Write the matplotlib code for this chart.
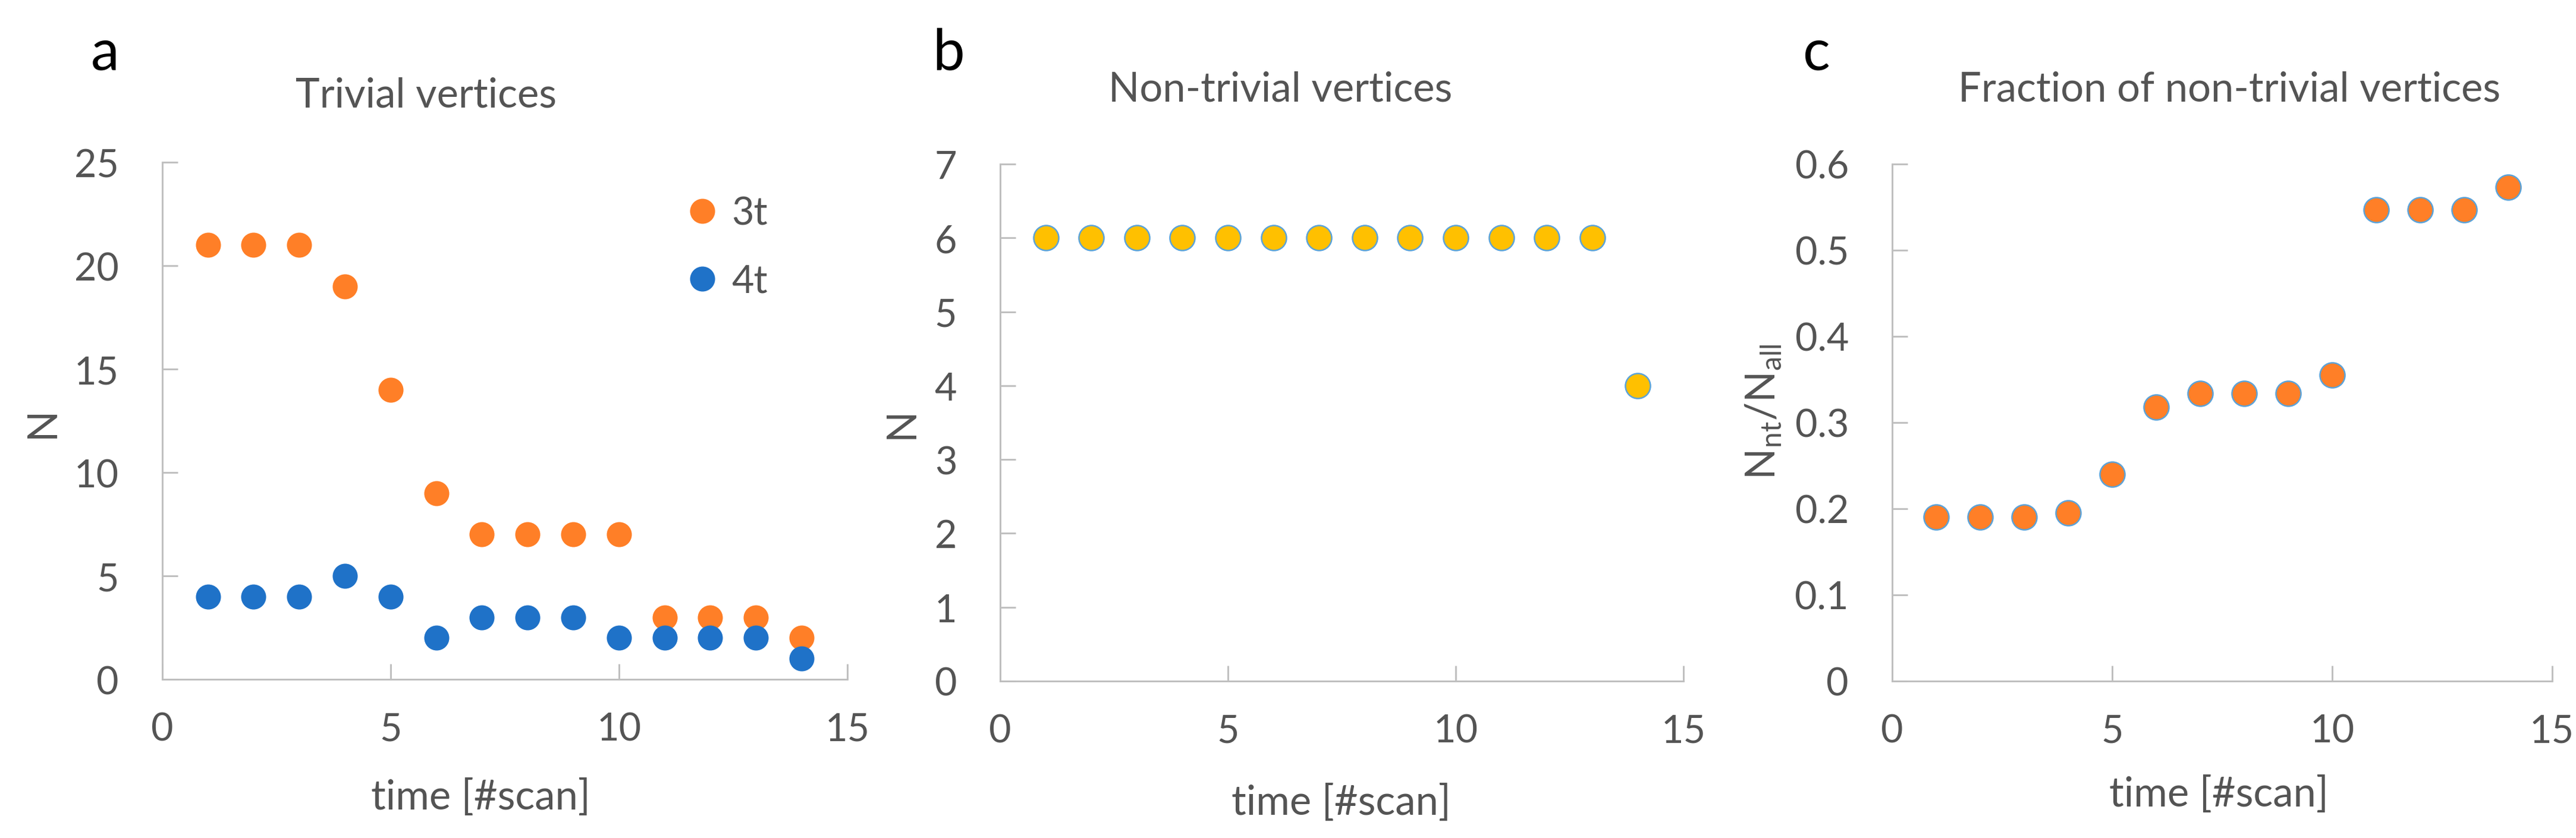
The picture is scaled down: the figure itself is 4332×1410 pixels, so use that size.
import matplotlib.pyplot as plt
from matplotlib.ticker import FuncFormatter

plt.rcParams['font.family'] = ['Lato', 'DejaVu Sans']

# data
time = [1, 2, 3, 4, 5, 6, 7, 8, 9, 10, 11, 12, 13, 14]
n_3t = [21, 21, 21, 19, 14, 9, 7, 7, 7, 7, 3, 3, 3, 2]
n_4t = [4, 4, 4, 5, 4, 2, 3, 3, 3, 2, 2, 2, 2, 1]
n_nt = [6, 6, 6, 6, 6, 6, 6, 6, 6, 6, 6, 6, 6, 4]
frac_nt = [0.19, 0.19, 0.19, 0.195, 0.24, 0.318, 0.334, 0.334, 0.334, 0.355,
           0.547, 0.547, 0.547, 0.573]

titles = ['Trivial vertices', 'Non-trivial vertices', 'Fraction of non-trivial vertices']
letters = ['a', 'b', 'c']

TXT = '#545454'
AX = '#BFBFBF'
ORANGE = '#FF7F27'
BLUE = '#1F72C8'
YELLOW = '#FFC000'
EDGE = '#5BA3D9'

fig = plt.figure(figsize=(14.44, 4.7033), dpi=300)
ax_a = fig.add_axes([0.0630, 0.1892, 0.2659, 0.6166])
ax_b = fig.add_axes([0.3883, 0.1871, 0.2652, 0.6166])
ax_c = fig.add_axes([0.7345, 0.1871, 0.2562, 0.6166])
axes = [ax_a, ax_b, ax_c]

ms = 10.1
ax_a.plot(time, n_3t, 'o', color=ORANGE, ms=ms, mew=0, label='3t', clip_on=False)
ax_a.plot(time, n_4t, 'o', color=BLUE, ms=ms, mew=0, label='4t', clip_on=False)
ax_b.plot(time, n_nt, 'o', color=YELLOW, mec=EDGE, ms=ms, mew=0.6, clip_on=False)
ax_c.plot(time, frac_nt, 'o', color=ORANGE, mec=EDGE, ms=ms, mew=0.6, clip_on=False)

ax_a.set_ylim(0, 25)
ax_a.set_yticks([0, 5, 10, 15, 20, 25])
ax_b.set_ylim(0, 7)
ax_b.set_yticks(range(0, 8))
ax_c.set_ylim(0, 0.6)
ax_c.set_yticks([0, 0.1, 0.2, 0.3, 0.4, 0.5, 0.6])
ax_c.yaxis.set_major_formatter(FuncFormatter(lambda v, p: '0' if v == 0 else f'{v:.1f}'))

leg = ax_a.legend(loc='center', bbox_to_anchor=(0.822, 0.836), frameon=False,
                  fontsize=15.5, handlelength=1.0, handletextpad=0.25,
                  labelspacing=0.85)
for t in leg.get_texts():
    t.set_color(TXT)

title_pos = [(0.385, 1.108), (0.41, 1.122), (0.511, 1.122)]
letter_x = [0.0353, 0.362, 0.700]
ylab = ['N', 'N', r'N$_{\mathregular{nt}}$/N$_{\mathregular{all}}$']
ylab_pos = [(-0.148, 0.498), (-0.117, 0.50), (-0.166, 0.522)]
xlab_pos = [(0.465, -0.191), (0.499, -0.198), (0.495, -0.182)]

for i, ax in enumerate(axes):
    ax.set_xlim(0, 15)
    ax.set_xticks([0, 5, 10, 15])
    for s in ['top', 'right']:
        ax.spines[s].set_visible(False)
    for s in ['left', 'bottom']:
        ax.spines[s].set_color(AX)
        ax.spines[s].set_linewidth(0.7)
    ax.tick_params(axis='both', direction='in', length=6.2, width=0.7, color=AX,
                   labelsize=15.5, labelcolor=TXT)
    ax.tick_params(axis='y', pad=17.5)
    ax.tick_params(axis='x', pad=13)
    ax.text(title_pos[i][0], title_pos[i][1], titles[i], transform=ax.transAxes,
            ha='center', va='baseline', fontsize=16.5, color=TXT)
    fig.text(letter_x[i], 0.917, letters[i], ha='left', va='baseline',
             fontsize=23, color='black')
    ax.set_ylabel(ylab[i], fontsize=16.5, color=TXT)
    ax.yaxis.set_label_coords(*ylab_pos[i])
    ax.set_xlabel('time [#scan]', fontsize=16.5, color=TXT)
    ax.xaxis.set_label_coords(*xlab_pos[i])

fig.savefig('out.png', dpi=300)
